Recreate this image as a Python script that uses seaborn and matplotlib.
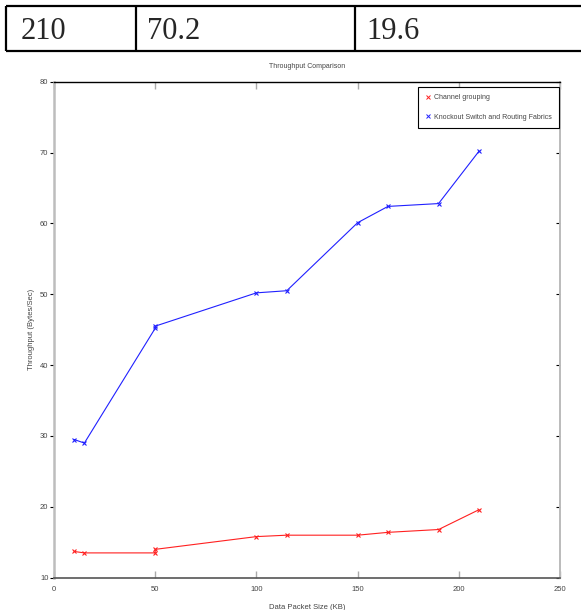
import matplotlib
matplotlib.use("Agg")
import pandas as pd
import matplotlib.pyplot as plt
import seaborn as sns
from matplotlib.lines import Line2D

# values
packet_size = [10, 15, 50, 50, 100, 115, 150, 165, 190, 210]
channel_grouping = [13.7, 13.5, 13.5, 14.0, 15.8, 16.0, 16.0, 16.4, 16.8, 19.6]
knockout_switch = [29.5, 29.0, 45.2, 45.5, 50.2, 50.5, 60.1, 62.4, 62.8, 70.2]
table_row = ["210", "70.2", "19.6"]

sns.set_style("white")
plt.rcParams["font.family"] = ["Liberation Sans Narrow", "Liberation Sans", "DejaVu Sans"]

fig = plt.figure(figsize=(5.81, 6.10), dpi=100)

# table strip above the chart, drawn in pixel coordinates
tab = fig.add_axes([0, 0, 1, 1], zorder=0)
tab.set_xlim(0, 581)
tab.set_ylim(610, 0)
tab.axis("off")
for yy in [6, 51]:
    tab.plot([6, 600], [yy, yy], color="black", lw=1.6, solid_capstyle="butt")
for xx in [6, 136, 355]:
    tab.plot([xx, xx], [6, 51], color="black", lw=1.6, solid_capstyle="butt")
for xx, txt in zip([21, 147, 366], table_row):
    tab.text(xx, 39, txt, fontsize=22, family=["Liberation Serif", "DejaVu Serif"],
             ha="left", va="baseline")

ax = fig.add_axes([54 / 581, (610 - 577.7) / 610, 506 / 581, 496 / 610], zorder=1)
df = pd.DataFrame({"size": packet_size, "cg": channel_grouping, "ko": knockout_switch})
red, blue = "#ff2020", "#2020ff"
sns.lineplot(data=df, x="size", y="cg", ax=ax, color=red, lw=0.8,
             marker="x", markersize=3, mew=0.8, mec=red, estimator=None, sort=False)
sns.lineplot(data=df, x="size", y="ko", ax=ax, color=blue, lw=0.8,
             marker="x", markersize=3, mew=0.8, mec=blue, estimator=None, sort=False)

ax.set_xlim(0, 250)
ax.set_ylim(10, 80)
ax.set_xticks([0, 50, 100, 150, 200, 250])
ax.set_yticks([10, 20, 30, 40, 50, 60, 70, 80])
ax.set_title("Throughput Comparison", fontsize=5, color="#444444", pad=10)
ax.set_xlabel("Data Packet Size (KB)", fontsize=5.5, color="#444444", labelpad=8)
ax.set_ylabel("Throughput (Bytes/Sec)", fontsize=5.5, color="#444444", labelpad=4)

ax.spines["left"].set_color("#bdbdbd")
ax.spines["left"].set_linewidth(1.8)
ax.spines["bottom"].set_color("#555555")
ax.spines["bottom"].set_linewidth(1.2)
ax.spines["top"].set_color("black")
ax.spines["top"].set_linewidth(1.0)
ax.spines["right"].set_color("#bbbbbb")
ax.spines["right"].set_linewidth(1.4)

ax.tick_params(axis="x", which="both", bottom=True, top=True, direction="in",
               length=5, width=1, color="#aaaaaa", labelsize=5.5, labelcolor="#444444", pad=6)
ax.tick_params(axis="y", which="both", left=True, right=True, direction="out",
               length=3, width=0.8, color="black", labelsize=5.5, labelcolor="#444444", pad=1)
for t in ax.yaxis.get_ticklines()[1::2]:
    t.set_marker(0)  # right side ticks point inward

handles = [
    Line2D([], [], color=red, marker="x", linestyle="none", markersize=2.5, mew=0.7),
    Line2D([], [], color=blue, marker="x", linestyle="none", markersize=2.5, mew=0.7),
]
leg = ax.legend(handles, ["Channel grouping", "Knockout Switch and Routing Fabrics"],
                loc="upper right", bbox_to_anchor=(0.998, 0.989), borderaxespad=0,
                fontsize=5, handlelength=1.0, handletextpad=0.4, labelspacing=1.8,
                borderpad=1.0, fancybox=False, framealpha=1, edgecolor="black")
leg.get_frame().set_linewidth(0.8)
for t in leg.get_texts():
    t.set_color("#444444")

fig.savefig("out.png", dpi=100)
